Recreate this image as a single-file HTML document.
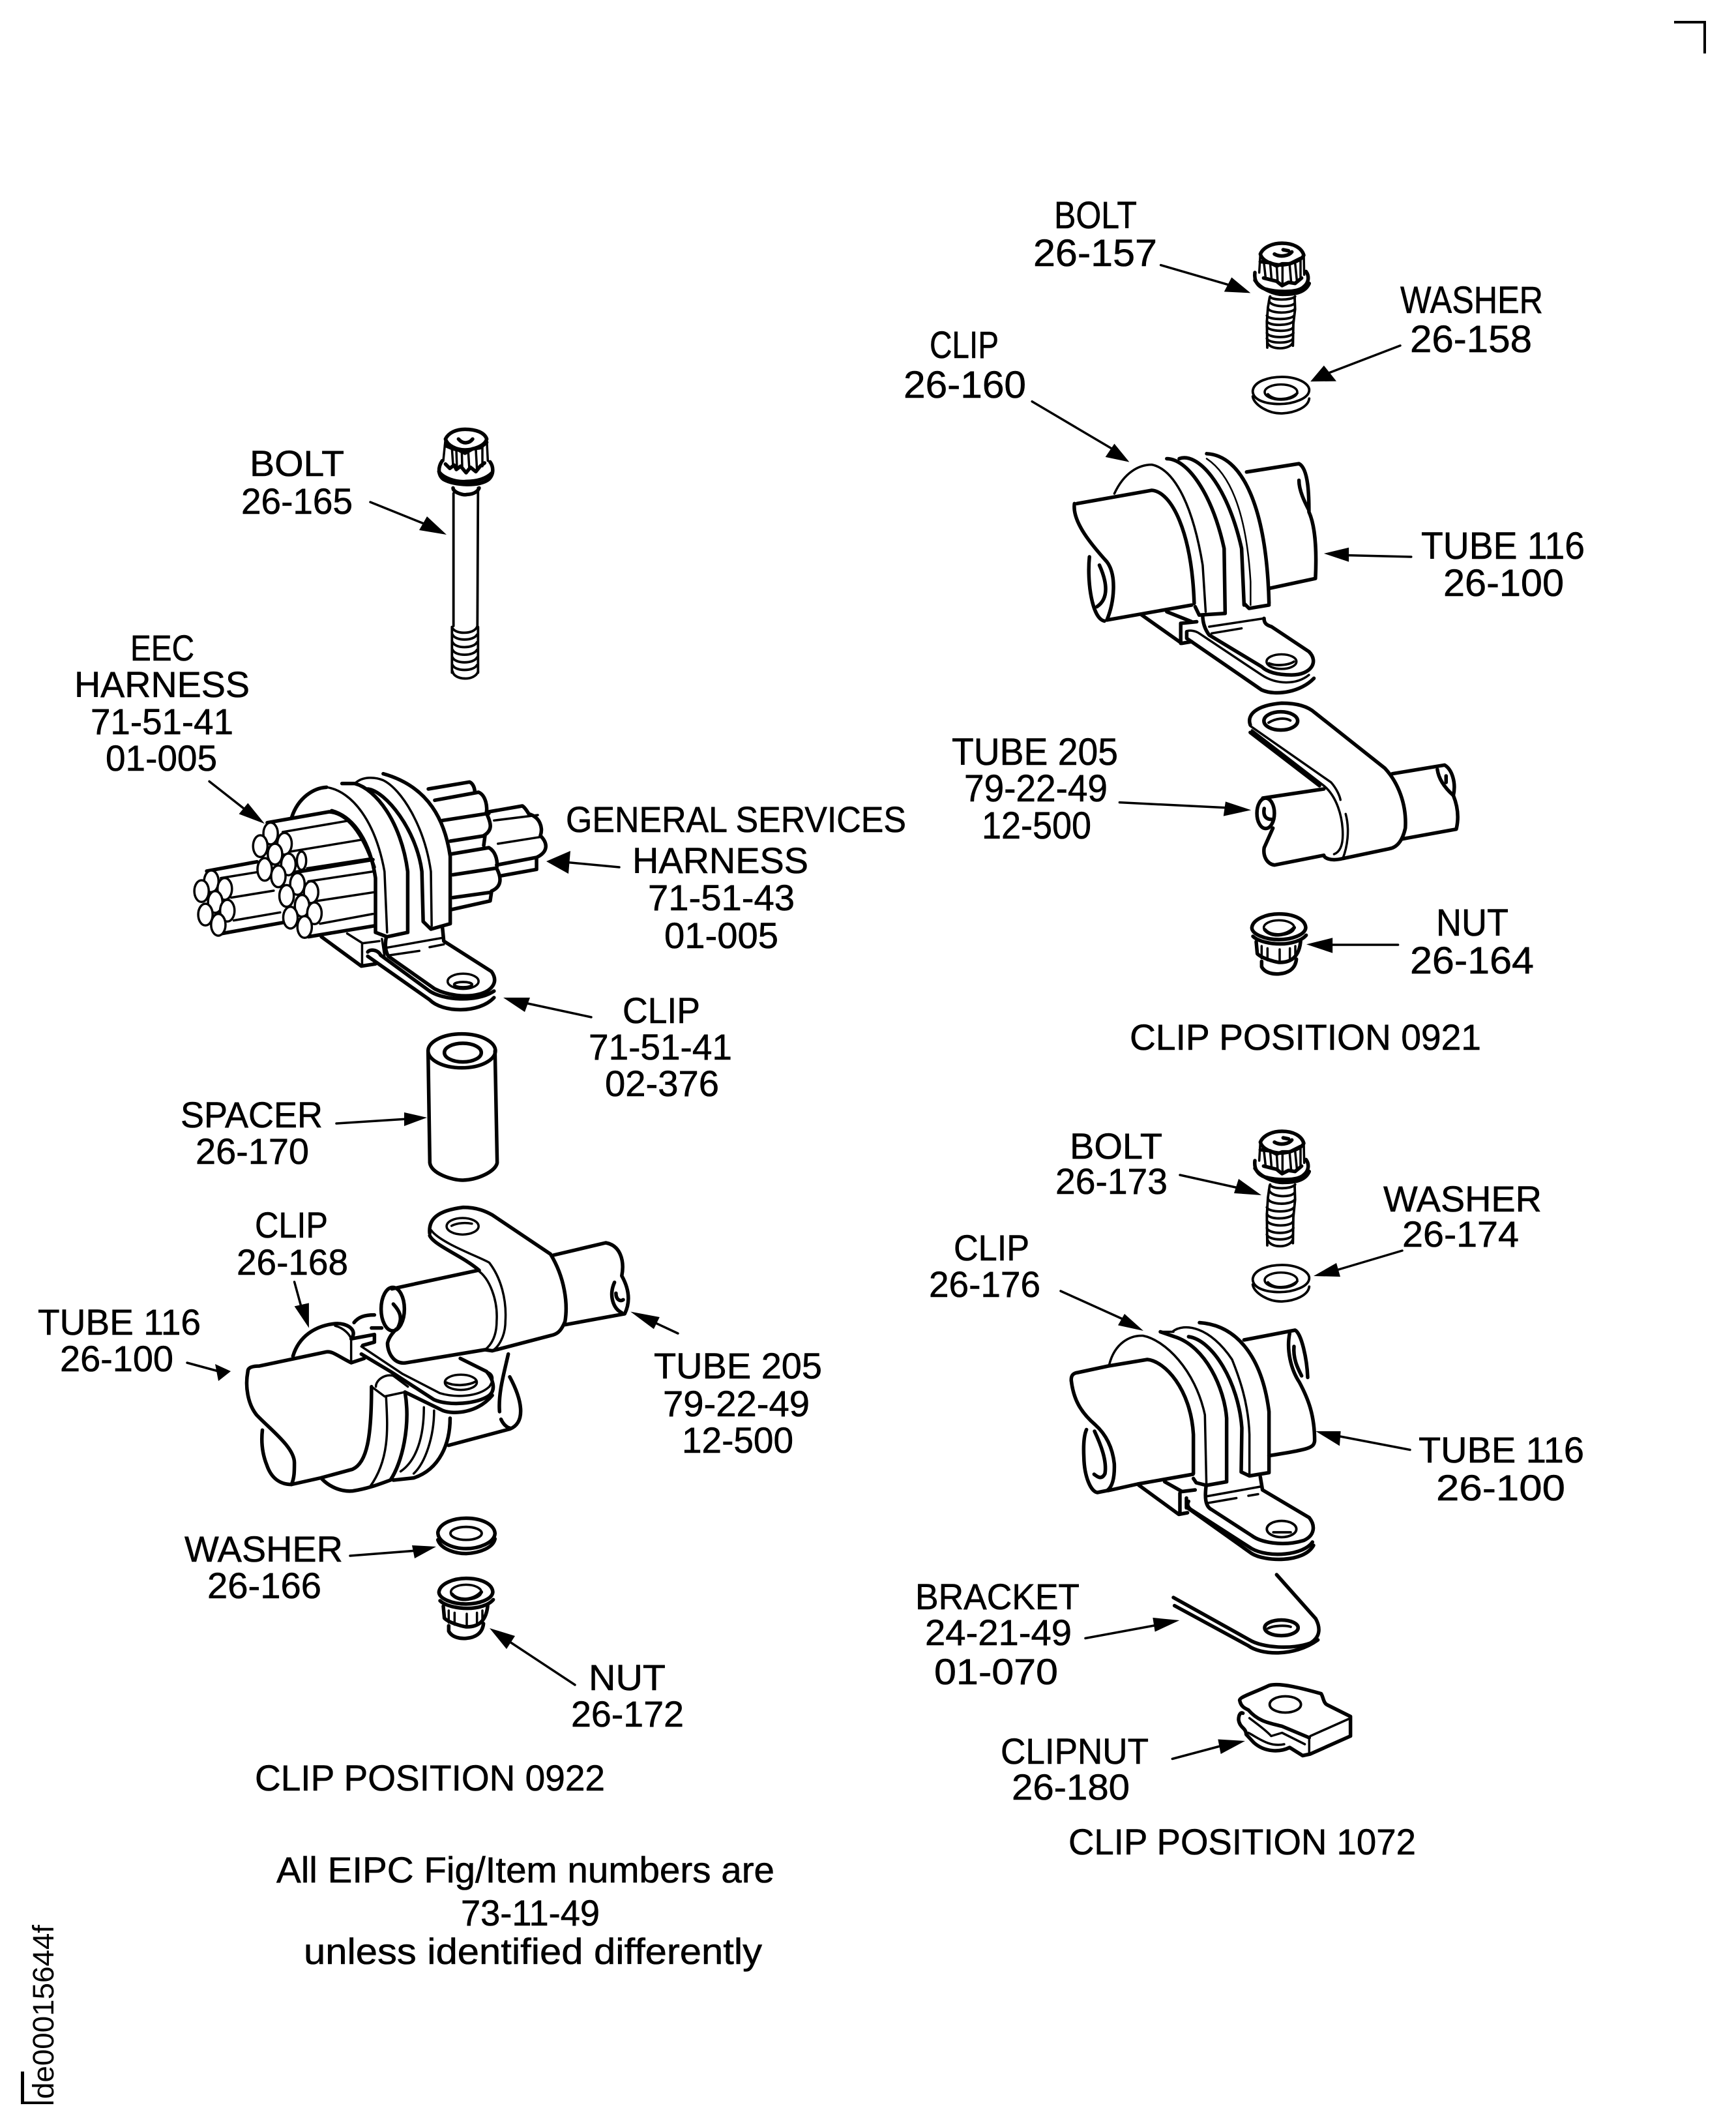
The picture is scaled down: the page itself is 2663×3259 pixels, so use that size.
<!DOCTYPE html>
<html><head><meta charset="utf-8"><title>Clip positions</title>
<style>
html,body{margin:0;padding:0;background:#fff}
svg{display:block}
text{font-family:"Liberation Sans",sans-serif;font-size:56px;fill:#000;stroke:#000;stroke-width:.6}
.b text{font-size:58px}
path,ellipse,line{vector-effect:non-scaling-stroke;fill:none;stroke:#000;stroke-width:3.5;stroke-linecap:round;stroke-linejoin:round}
.t path,path.t,ellipse.t{stroke-width:5.5}
.m path,path.m,ellipse.m{stroke-width:3.8}
.n path,path.n{stroke-width:2.5}
ellipse.w{fill:#fff}
polygon{fill:#000;stroke:none}
</style></head><body>
<svg xmlns="http://www.w3.org/2000/svg" xmlns:xlink="http://www.w3.org/1999/xlink" width="2663" height="3259" viewBox="0 0 2663 3259">
<rect width="2663" height="3259" fill="#fff"/>

<!-- corners -->
<polygon points="2568,32 2617,32 2617,82 2613,82 2613,36 2568,36"/>
<polygon points="32,3177 37,3177 37,3223 82,3223 82,3227 32,3227"/>
<text transform="translate(82,3219) rotate(-90)" style="font-size:45px;stroke-width:0" textLength="267" lengthAdjust="spacingAndGlyphs">de00015644f</text>

<!-- labels: right column top -->
<g class="b">
<text x="1617" y="350" textLength="127" lengthAdjust="spacingAndGlyphs">BOLT</text>
<text x="1585" y="408" textLength="190" lengthAdjust="spacingAndGlyphs">26-157</text>
<text x="2148" y="480" textLength="219" lengthAdjust="spacingAndGlyphs">WASHER</text>
<text x="2163" y="540" textLength="187" lengthAdjust="spacingAndGlyphs">26-158</text>
<text x="1426" y="549" textLength="106" lengthAdjust="spacingAndGlyphs">CLIP</text>
<text x="1386" y="610" textLength="188" lengthAdjust="spacingAndGlyphs">26-160</text>
<text x="2180" y="857" textLength="251" lengthAdjust="spacingAndGlyphs">TUBE 116</text>
<text x="2214" y="914" textLength="185" lengthAdjust="spacingAndGlyphs">26-100</text>
<text x="1460" y="1173" textLength="255" lengthAdjust="spacingAndGlyphs">TUBE 205</text>
<text x="1479" y="1229" textLength="220" lengthAdjust="spacingAndGlyphs">79-22-49</text>
<text x="1506" y="1286" textLength="168" lengthAdjust="spacingAndGlyphs">12-500</text>
<text x="2203" y="1435" textLength="111" lengthAdjust="spacingAndGlyphs">NUT</text>
<text x="2163" y="1493" textLength="190" lengthAdjust="spacingAndGlyphs">26-164</text>
</g>
<g transform="translate(0,-2)">
<text x="1733" y="1612" textLength="539" lengthAdjust="spacingAndGlyphs">CLIP POSITION 0921</text>
<text x="1641" y="1779" textLength="142" lengthAdjust="spacingAndGlyphs">BOLT</text>
<text x="1619" y="1833" textLength="172" lengthAdjust="spacingAndGlyphs">26-173</text>
<text x="2122" y="1860" textLength="243" lengthAdjust="spacingAndGlyphs">WASHER</text>
<text x="2151" y="1914" textLength="179" lengthAdjust="spacingAndGlyphs">26-174</text>
<text x="1463" y="1935" textLength="116" lengthAdjust="spacingAndGlyphs">CLIP</text>
<text x="1425" y="1991" textLength="171" lengthAdjust="spacingAndGlyphs">26-176</text>
<text x="2176" y="2245" textLength="254" lengthAdjust="spacingAndGlyphs">TUBE 116</text>
<text x="2203" y="2303" textLength="198" lengthAdjust="spacingAndGlyphs">26-100</text>
<text x="1404" y="2470" textLength="252" lengthAdjust="spacingAndGlyphs">BRACKET</text>
<text x="1419" y="2525" textLength="225" lengthAdjust="spacingAndGlyphs">24-21-49</text>
<text x="1433" y="2585" textLength="190" lengthAdjust="spacingAndGlyphs">01-070</text>
<text x="1535" y="2707" textLength="227" lengthAdjust="spacingAndGlyphs">CLIPNUT</text>
<text x="1552" y="2762" textLength="181" lengthAdjust="spacingAndGlyphs">26-180</text>
<text x="1639" y="2846" textLength="533" lengthAdjust="spacingAndGlyphs">CLIP POSITION 1072</text>

<!-- labels: left -->
<text x="383" y="732" textLength="145" lengthAdjust="spacingAndGlyphs">BOLT</text>
<text x="370" y="790" textLength="171" lengthAdjust="spacingAndGlyphs">26-165</text>
<text x="200" y="1015" textLength="98" lengthAdjust="spacingAndGlyphs">EEC</text>
<text x="114" y="1071" textLength="269" lengthAdjust="spacingAndGlyphs">HARNESS</text>
<text x="139" y="1128" textLength="219" lengthAdjust="spacingAndGlyphs">71-51-41</text>
<text x="162" y="1184" textLength="171" lengthAdjust="spacingAndGlyphs">01-005</text>
<text x="868" y="1278" textLength="522" lengthAdjust="spacingAndGlyphs">GENERAL SERVICES</text>
<text x="970" y="1341" textLength="270" lengthAdjust="spacingAndGlyphs">HARNESS</text>
<text x="994" y="1398" textLength="225" lengthAdjust="spacingAndGlyphs">71-51-43</text>
<text x="1019" y="1456" textLength="175" lengthAdjust="spacingAndGlyphs">01-005</text>
<text x="955" y="1571" textLength="119" lengthAdjust="spacingAndGlyphs">CLIP</text>
<text x="903" y="1627" textLength="220" lengthAdjust="spacingAndGlyphs">71-51-41</text>
<text x="928" y="1683" textLength="175" lengthAdjust="spacingAndGlyphs">02-376</text>
<text x="277" y="1731" textLength="218" lengthAdjust="spacingAndGlyphs">SPACER</text>
<text x="300" y="1787" textLength="174" lengthAdjust="spacingAndGlyphs">26-170</text>
<text x="391" y="1900" textLength="112" lengthAdjust="spacingAndGlyphs">CLIP</text>
<text x="363" y="1957" textLength="171" lengthAdjust="spacingAndGlyphs">26-168</text>
<text x="58" y="2049" textLength="250" lengthAdjust="spacingAndGlyphs">TUBE 116</text>
<text x="92" y="2105" textLength="174" lengthAdjust="spacingAndGlyphs">26-100</text>
<text x="1003" y="2116" textLength="258" lengthAdjust="spacingAndGlyphs">TUBE 205</text>
<text x="1017" y="2174" textLength="225" lengthAdjust="spacingAndGlyphs">79-22-49</text>
<text x="1046" y="2230" textLength="171" lengthAdjust="spacingAndGlyphs">12-500</text>
<text x="283" y="2397" textLength="243" lengthAdjust="spacingAndGlyphs">WASHER</text>
<text x="318" y="2453" textLength="175" lengthAdjust="spacingAndGlyphs">26-166</text>
<text x="903" y="2594" textLength="118" lengthAdjust="spacingAndGlyphs">NUT</text>
<text x="876" y="2650" textLength="173" lengthAdjust="spacingAndGlyphs">26-172</text>
<text x="391" y="2748" textLength="537" lengthAdjust="spacingAndGlyphs">CLIP POSITION 0922</text>
</g>
<text x="424" y="2887" textLength="764" lengthAdjust="spacingAndGlyphs">All EIPC Fig/Item numbers are</text>
<text x="707" y="2953" textLength="213" lengthAdjust="spacingAndGlyphs">73-11-49</text>
<text x="466" y="3012" textLength="703" lengthAdjust="spacingAndGlyphs">unless identified differently</text>

<defs>
<g id="bolthead">
 <path d="M160 95C175 60 220 45 260 45C310 45 350 65 360 100C350 125 290 145 255 145C220 145 170 130 160 95Z" class="t"/>
 <path d="M225 95C250 110 290 105 305 85M265 75L290 80" class="t"/>
 <path d="M160 95L155 180M360 100L362 190M175 120L185 210M205 135L212 215M235 145L240 225M262 150L262 240M295 145L302 225M320 135L328 215M345 120L345 200"/>
 <path d="M160 130L205 135L235 150L260 140L295 140L345 115M175 205L215 215L235 220L260 240L290 225L320 230L350 205" class="t"/>
 <path d="M135 180C130 220 150 245 180 255C230 270 330 275 360 245C385 225 385 195 370 175" class="t"/>
 <path d="M135 215C160 255 230 285 275 280C330 280 370 265 385 230" class="t"/>
</g>
<g id="thread" class="m">
 <path d="M205 290C205 310 300 315 320 290M200 315C210 350 300 350 315 330M195 355C205 385 300 385 318 360M190 395C200 420 300 420 315 395M190 425C200 455 300 450 312 425M190 455C200 485 300 485 310 460M190 490C200 520 300 520 312 490M190 520C200 550 300 550 310 520M192 540C200 585 300 585 310 540"/>
 <path d="M203 295L195 350L190 430L192 570M318 295L320 360L312 440L310 560"/>
</g>
<g id="washer" class="m">
 <path d="M125 725C130 680 200 660 260 660C330 660 385 690 385 720C385 760 310 785 250 785C180 785 125 765 125 725Z" class="t"/>
 <path d="M125 750C130 790 200 830 260 828C320 825 380 800 385 760" class="t"/>
 <ellipse cx="255" cy="730" rx="75" ry="35"/>
 <path d="M195 740C220 770 290 770 330 735"/>
</g>
<g id="nut">
 <path d="M160 425C165 385 230 362 285 362C350 362 405 385 408 425C405 460 340 480 285 480C220 480 160 455 160 425Z" class="t"/>
 <path d="M165 465C190 490 250 500 290 500C340 500 390 485 410 460" class="t"/>
 <ellipse cx="285" cy="425" rx="70" ry="34"/>
 <path d="M220 435C250 470 320 465 355 425" class="t"/>
 <path d="M180 490L185 545C210 570 280 585 290 585C340 585 380 560 385 480" class="t"/>
 <path d="M205 510L205 565M232 520L232 575M288 525L288 585M335 520L335 575M360 510L360 560"/>
 <path d="M205 580L205 605C220 635 260 640 285 638C320 635 360 620 365 570" class="t"/>
</g>
</defs>

<!-- bolt 26-165 -->
<g transform="translate(600,640) scale(.3333)">
 <path d="M250 100C265 70 300 55 340 55C390 55 430 70 440 100C430 135 370 150 340 150C300 150 260 130 250 100Z" class="t"/>
 <path d="M310 100C330 125 360 120 375 100" class="t"/>
 <path d="M250 100L240 200M440 100L445 200M280 145L285 220M300 150L303 235M325 155L327 225M355 160L360 240M390 150L395 240M420 130L420 225"/>
 <path d="M250 130L285 145L310 150L340 165L375 145L410 140L440 115M250 215L270 235L290 220L300 240L320 225L345 255L365 230L390 250L410 225L430 210" class="t"/>
 <path d="M235 200C215 230 215 265 240 285C290 315 410 320 450 285C475 260 470 225 455 205" class="t"/>
 <path d="M220 250C240 280 300 300 345 295C400 295 440 280 465 255" class="t"/>
 <path d="M285 325C285 345 330 360 350 355C380 355 400 340 405 325" class="t"/>
 <path d="M287 350L287 960M400 325L397 960" class="m"/>
 <path d="M280 965C290 1000 380 1000 395 965M283 1000C295 1030 380 1030 395 1000M283 1035C295 1065 380 1065 395 1035M283 1070C295 1100 380 1100 395 1070M283 1105C295 1135 380 1135 395 1105M283 1140C295 1170 380 1170 395 1140M283 1170C290 1210 385 1215 400 1170" class="m"/>
 <path d="M280 965L280 1175M400 965L400 1175" class="m"/>
</g>

<!-- bolts and washers right -->
<g transform="translate(1880,1720) scale(.3333)">
 <use xlink:href="#bolthead" href="#bolthead"/><use xlink:href="#thread" href="#thread"/><use xlink:href="#washer" href="#washer"/>
</g>
<g transform="translate(1880,358) scale(.3333)">
 <use xlink:href="#bolthead" href="#bolthead"/><g transform="translate(0,290) scale(1,.84) translate(0,-290)"><use xlink:href="#thread" href="#thread"/></g><use xlink:href="#washer" href="#washer"/>
</g>

<!-- washer 26-166, nut 26-172, nut 26-164 -->
<g transform="translate(620,2300) scale(.3333)">
 <path d="M155 150C165 105 230 85 285 85C360 85 415 115 418 155C415 200 340 225 285 225C220 225 155 195 155 150Z" class="t"/>
 <path d="M155 185C170 230 240 248 285 248C350 245 410 220 418 180" class="t"/>
 <ellipse cx="285" cy="155" rx="72" ry="30" class="m"/>
 <use xlink:href="#nut" href="#nut"/>
</g>
<g transform="translate(1867,1281) scale(.3333)"><use xlink:href="#nut" href="#nut"/></g>

<!-- spacer -->
<g transform="translate(620,1570) scale(.3333)" class="t">
 <ellipse cx="265" cy="125" rx="155" ry="78" class="t"/>
 <ellipse cx="270" cy="133" rx="85" ry="43" class="t"/>
 <path d="M110 125L118 640C125 690 220 720 270 720C340 718 420 680 428 640L418 125"/>
</g>

<!-- clip 26-160 -->
<g transform="translate(1300,280) scale(.7653,.5102)">
 <path d="M460 965L610 925C650 930 690 1050 695 1265" class="t"/>
 <path d="M455 965C450 1020 490 1090 520 1140C540 1180 535 1260 520 1315L690 1270" class="t"/>
 <path d="M485 1125C480 1200 490 1310 515 1318M505 1150C520 1200 525 1250 500 1275" class="t"/>
 <path d="M535 935C555 870 585 848 610 848C650 860 690 950 712 1150L718 1290" />
 <path d="M640 830C680 830 730 930 755 1100L757 1295" class="t"/>
 <path d="M665 830C700 810 760 900 790 1100L795 1270" class="t"/>
 <path d="M720 815C790 820 840 970 845 1265" class="t"/>
 <path d="M720 830C770 880 800 1000 808 1200L808 1270" class="n"/>
 <path d="M697 1275L705 1300L757 1295M795 1265L805 1280L845 1270" class="t"/>
 <path d="M800 870L905 845C925 860 925 950 925 990C940 1040 940 1130 938 1190L845 1220" class="t"/>
 <path d="M905 895C905 930 920 970 925 985" class="t"/>
 <path d="M590 1300L670 1385L690 1380M640 1290L690 1320M668 1385L668 1325L700 1320" class="t"/>
 <path d="M680 1350C680 1345 695 1345 705 1355L830 1480C860 1510 900 1510 925 1480"/>
 <path d="M835 1310C835 1325 840 1330 850 1335L925 1410C945 1440 930 1480 890 1480C860 1480 840 1470 830 1455L725 1360C715 1340 712 1320 712 1300" class="t"/>
 <path d="M725 1335L835 1310M730 1355L790 1340" />
 <path d="M680 1350L680 1370L830 1525C860 1545 910 1530 935 1490" class="t"/>
 <ellipse cx="870" cy="1440" rx="30" ry="22"/>
 <path d="M845 1445C860 1455 885 1450 895 1440" class="m"/>
 <polygon points="808,332 770,285 755,328"/><path d="M628 248L770 310"/>
 <polygon points="928,598 955,550 980,597"/><path d="M1108 490L960 575"/>
 <polygon points="565,840 535,785 517,825"/><path d="M370 658L530 800"/>
 <polygon points="955,1115 1005,1097 1005,1140"/><path d="M1130 1125L990 1120"/>
</g>

<!-- P clip & arrows, crop 4 -->
<g transform="translate(1600,1040) scale(.4464,.3333)">
 <path d="M712 215C700 170 730 125 820 115C880 115 915 135 935 160L1175 415C1220 480 1250 580 1245 690C1235 750 1215 780 1190 785L1030 830C985 845 965 825 965 815L795 860C770 855 755 820 760 780C770 750 780 720 790 690" class="t"/>
 <path d="M755 552L965 510M1200 440L1380 400C1405 420 1420 480 1410 540C1425 590 1430 640 1420 695L1235 740" class="t"/>
 <ellipse cx="765" cy="622" rx="30" ry="70" class="t"/>
 <path d="M760 600C755 640 770 650 785 650M1385 450L1385 480" class="t"/>
 <path d="M1355 420C1360 470 1385 510 1410 540" class="t"/>
 <path d="M712 250L950 495" class="t"/>
 <path d="M718 240L960 490C1010 540 1030 640 1030 720C1030 770 1020 800 1000 810"/>
 <path d="M712 220L990 480C1010 510 1020 545 1022 560M1040 625C1055 700 1045 780 1030 830"/>
 <ellipse cx="817" cy="197" rx="58" ry="42" class="t"/>
 <path d="M775 205C800 185 830 180 850 195" class="m"/>
 <polygon points="715,607 627,568 620,635"/><path d="M263 572L640 597"/>
 <polygon points="905,1225 995,1195 995,1265"/><path d="M1220 1227L980 1227"/>
</g>

<!-- clip 26-176, bracket, clipnut -->
<g transform="translate(1600,2000) scale(.3333,.5)">
 <path d="M130 235C128 218 140 212 160 210L300 190L480 170C560 175 680 260 692 400L692 520" class="t"/>
 <path d="M130 235C140 290 170 330 240 370C290 400 320 440 328 490C330 530 320 560 295 572L250 578C220 575 190 530 188 470C185 430 190 400 200 385" class="t"/>
 <path d="M237 390C265 430 295 480 285 520C270 540 250 530 235 522" class="t"/>
 <path d="M300 572L435 552L690 522" class="t"/>
 <path d="M305 185C330 120 400 95 460 97C560 110 700 200 745 340L752 555"/>
 <path d="M692 535L705 548L752 556L845 545L845 350C835 260 750 130 605 100L540 85" class="t"/>
 <path d="M540 85L600 85M595 85C650 55 770 70 870 170C900 220 945 300 950 400L950 525"/>
 <path d="M670 100C780 110 900 240 915 380L912 515L950 527L1040 517L1040 330C1010 170 900 65 720 57" class="t"/>
 <path d="M925 110L1160 80C1190 90 1215 170 1218 225" class="t"/>
 <path d="M1135 90C1120 140 1140 200 1180 240C1220 290 1250 340 1250 420C1245 440 1235 445 1040 465" class="t"/>
 <path d="M1155 130C1150 170 1175 200 1190 220" class="t"/>
 <path d="M440 555L625 645L665 640M560 545L640 575L700 570M630 580L630 640M660 595L660 625" class="t"/>
 <path d="M1000 530L1010 570L1225 655C1255 680 1250 710 1200 725C1100 745 1000 730 960 710L775 630C745 620 745 590 750 560" class="t"/>
 <path d="M750 590L1000 560M760 610L890 595M945 588L990 583"/>
 <path d="M670 605C660 615 670 625 680 630L960 750C1040 780 1200 770 1240 730" class="t"/>
 <path d="M665 625L960 765C1020 790 1200 795 1245 740" class="t"/>
 <ellipse cx="1098" cy="690" rx="68" ry="25" class="m"/>
 <path d="M1060 700L1140 700" class="m"/>
 <!-- bracket -->
 <path d="M600 900L950 1030C1010 1055 1150 1060 1230 1040C1280 1020 1275 990 1255 965L1075 830" class="t"/>
 <path d="M605 925L945 1048C1000 1075 1150 1085 1265 1030" class="t"/>
 <ellipse cx="1097" cy="993" rx="77" ry="24" class="t"/>
 <path d="M1035 995C1060 985 1120 985 1140 990" class="m"/>
 <!-- clipnut -->
 <path d="M905 1215C905 1205 960 1195 1040 1170C1090 1160 1200 1180 1280 1195C1290 1205 1290 1225 1310 1230L1415 1265L1415 1325L1230 1380L1195 1385L1135 1360C1090 1375 1020 1375 970 1345L935 1320C935 1300 905 1300 900 1275C900 1260 910 1250 920 1255" class="t"/>
 <path d="M1230 1325L1415 1270M1225 1330L1225 1380" />
 <path d="M905 1215C910 1235 930 1240 945 1245C990 1280 1040 1285 1100 1295L1225 1330" class="t"/>
 <path d="M950 1270C990 1290 1030 1310 1050 1325L1100 1315L1205 1350M945 1315C990 1330 1040 1360 1110 1350"/>
 <ellipse cx="1115" cy="1228" rx="72" ry="25" class="m"/>
 <!-- arrows -->
 <polygon points="462,82 375,30 345,65"/><path d="M81 -40L380 50"/>
 <polygon points="1255,390 1370,390 1365,435"/><path d="M1689 447L1360 405"/>
 <polygon points="628,970 505,962 515,1005"/><path d="M195 1025L520 985"/>
 <polygon points="930,1340 805,1335 818,1380"/><path d="M595 1395L820 1355"/>
</g>

<!-- harness -->
<g transform="translate(240,1150) scale(.3953,.3333)">
 <g class="t">
 <path d="M195 558L390 515M255 845L490 795"/>
 <path d="M430 335L670 285C740 290 800 380 845 540M590 860L845 810"/>
 <path d="M530 565L840 505M640 860L795 995L850 985M1110 820L1115 880L1300 1020C1330 1070 1300 1110 1250 1125C1200 1140 1130 1130 1080 1100L900 950C890 930 885 900 892 860"/>
 <path d="M525 310C550 220 610 175 660 172"/>
 <path d="M720 155L770 155C850 180 950 330 975 560L975 840L895 860L850 840L850 590C830 430 770 310 680 280"/>
 <path d="M820 180C890 190 1010 370 1030 560L1035 790L1065 825L1140 800L1140 490C1120 330 1060 170 880 110"/>
 <path d="M1055 180L1215 148C1230 155 1235 180 1235 190M1080 232L1250 195C1280 210 1285 270 1280 290C1300 340 1305 370 1270 395M1110 325L1290 292M1140 420L1275 395L1270 440M1140 480L1290 450C1320 470 1325 520 1320 545C1340 590 1340 630 1300 650M1150 575L1315 545M1150 680L1300 655L1295 695L1145 735"/>
 <path d="M1290 285L1420 258C1430 265 1440 285 1445 295C1490 310 1500 360 1490 395C1520 430 1520 470 1475 495L1320 530M1475 500L1475 550L1335 580"/>
 <path d="M820 950L1060 1150C1110 1210 1250 1215 1310 1140"/>
 <path d="M820 930C830 915 860 920 870 945L1060 1110C1110 1150 1240 1165 1310 1110"/>
 </g>
 <path d="M250 590L395 562M290 680L455 648M300 785L480 748M490 378L750 325M520 468L805 412M585 545L830 500M590 605L840 560M625 695L845 655M635 800L840 755"/>
 <path d="M660 172C760 190 850 330 885 560L895 840M770 155C800 120 850 125 880 140C950 180 1040 350 1065 560L1068 810"/>
 <path d="M740 845L800 890L865 880M798 890L798 990M875 870L885 950M895 910L1110 865M905 945L1020 925M1060 908L1115 895M1310 325L1480 300M1325 432L1495 400"/>
 <ellipse cx="213" cy="605" rx="28" ry="50" class="w"/><ellipse cx="175" cy="650" rx="28" ry="50" class="w"/><ellipse cx="265" cy="640" rx="28" ry="50" class="w"/><ellipse cx="228" cy="700" rx="28" ry="50" class="w"/><ellipse cx="190" cy="758" rx="28" ry="50" class="w"/><ellipse cx="275" cy="740" rx="28" ry="50" class="w"/><ellipse cx="240" cy="805" rx="28" ry="50" class="w"/>
 <ellipse cx="563" cy="510" rx="18" ry="42"/>
 <ellipse cx="443" cy="385" rx="28" ry="50" class="w"/><ellipse cx="403" cy="443" rx="28" ry="50" class="w"/><ellipse cx="497" cy="432" rx="28" ry="50" class="w"/><ellipse cx="460" cy="480" rx="28" ry="48" class="w"/><ellipse cx="512" cy="527" rx="28" ry="50" class="w"/><ellipse cx="420" cy="550" rx="28" ry="52" class="w"/><ellipse cx="473" cy="582" rx="28" ry="50" class="w"/>
 <ellipse cx="547" cy="617" rx="28" ry="50" class="w"/><ellipse cx="505" cy="672" rx="28" ry="50" class="w"/><ellipse cx="600" cy="655" rx="28" ry="50" class="w"/><ellipse cx="565" cy="718" rx="28" ry="50" class="w"/><ellipse cx="613" cy="752" rx="28" ry="50" class="w"/><ellipse cx="520" cy="772" rx="28" ry="50" class="w"/><ellipse cx="575" cy="815" rx="28" ry="50" class="w"/>
 <ellipse cx="1190" cy="1065" rx="60" ry="35"/><ellipse cx="1190" cy="1080" rx="35" ry="12" class="m"/>
 <polygon points="420,340 355,245 320,295"/><path d="M205 145L350 280"/>
</g>
<polygon points="838,1321 875,1305 872,1340"/><path d="M950 1330L865 1322"/>
<polygon points="772,1530 813,1530 805,1552"/><path d="M907 1560L805 1538"/>

<!-- lower-left assembly -->
<g transform="translate(340,1820) scale(.4464,.3333)">
 <g class="t">
 <path d="M715 215C710 150 740 110 830 95C880 95 910 115 930 130L1130 310C1180 420 1190 540 1180 620C1165 670 1150 680 1130 685L930 755L905 750L635 810C590 820 570 760 570 720C575 690 590 670 600 655"/>
 <path d="M585 470L880 385M1140 315L1320 258C1370 270 1385 340 1375 410C1400 470 1405 530 1385 585L1180 635"/>
 <ellipse cx="588" cy="563" rx="40" ry="100" class="t"/>
 <path d="M590 540C610 570 625 600 605 650"/>
 <path d="M1350 440C1330 500 1345 560 1375 580M1355 490C1355 520 1370 530 1380 520"/>
 <path d="M715 225C730 270 830 320 885 385"/>
 <path d="M90 850C90 830 110 825 130 825L360 760C380 755 400 780 445 810L490 790"/>
 <path d="M90 850C80 920 90 1000 120 1050C170 1120 250 1200 250 1270C250 1310 250 1340 240 1370C200 1370 170 1340 155 1280C140 1230 135 1180 140 1120"/>
 <path d="M240 1370L340 1340L450 1300C500 1270 515 1150 515 920"/>
 <path d="M245 780C265 690 320 640 390 630C430 625 470 660 445 700M445 700L525 680L525 715L485 730M455 625C470 600 490 590 525 590M515 650L550 650"/>
 <path d="M630 945L760 1030C800 1050 880 1040 930 960"/>
 <path d="M480 770L580 850L730 980C780 1010 880 1000 920 960C945 930 930 880 910 850L820 790"/>
 <path d="M345 1345C370 1380 410 1405 450 1400C500 1390 540 1370 580 1350M630 945C650 1100 620 1270 580 1350M785 1065C785 1180 750 1300 660 1340L590 1350"/>
 <path d="M985 770C970 860 950 950 955 1035M990 875C1040 1000 1040 1090 990 1115L780 1190M960 1070C970 1100 985 1110 990 1110"/>
 <ellipse cx="822" cy="900" rx="55" ry="35"/>
 <ellipse cx="828" cy="182" rx="55" ry="38"/>
 </g>
 <path d="M720 200C750 260 900 330 920 350C960 420 980 520 975 620C975 690 950 740 930 755M880 385C920 420 950 520 945 620C945 680 930 725 905 750"/>
 <path d="M790 180C810 165 840 165 860 170M390 640C420 650 440 680 445 700L445 800"/>
 <path d="M480 735L620 860L750 950C800 970 880 970 920 920C940 880 930 860 910 850"/>
 <path d="M515 920L560 965L630 945M530 920C530 890 560 860 590 870L640 920M565 965C570 1100 580 1250 510 1380M695 1015C695 1150 670 1260 615 1310M730 1030C730 1150 700 1270 660 1320"/>
 <path d="M770 900C800 920 850 915 875 895" class="m"/>
 <polygon points="300,650 250,550 300,535"/><path d="M250 438L275 560"/>
 <polygon points="1405,575 1505,600 1485,655"/><path d="M1480 620L1568 675"/>
</g>
<polygon points="354,2103 330,2092 335,2118"/><path d="M287 2090L335 2103"/>

<!-- remaining arrows -->
<polygon points="685,820 655,792 643,813"/><path d="M568 770L650 803"/>
<polygon points="655,1714 620,1706 620,1727"/><path d="M516 1723L625 1716"/>
<polygon points="669,2372 632,2370 636,2390"/><path d="M537 2386L640 2378"/>
<polygon points="751,2497 790,2509 777,2529"/><path d="M882 2584L782 2518"/>
<polygon points="1935,1833 1900,1808 1893,1830"/><path d="M1810 1802L1900 1822"/>
<polygon points="2015,1957 2050,1937 2056,1958"/><path d="M2151 1918L2050 1948"/>
</svg>
</body></html>
